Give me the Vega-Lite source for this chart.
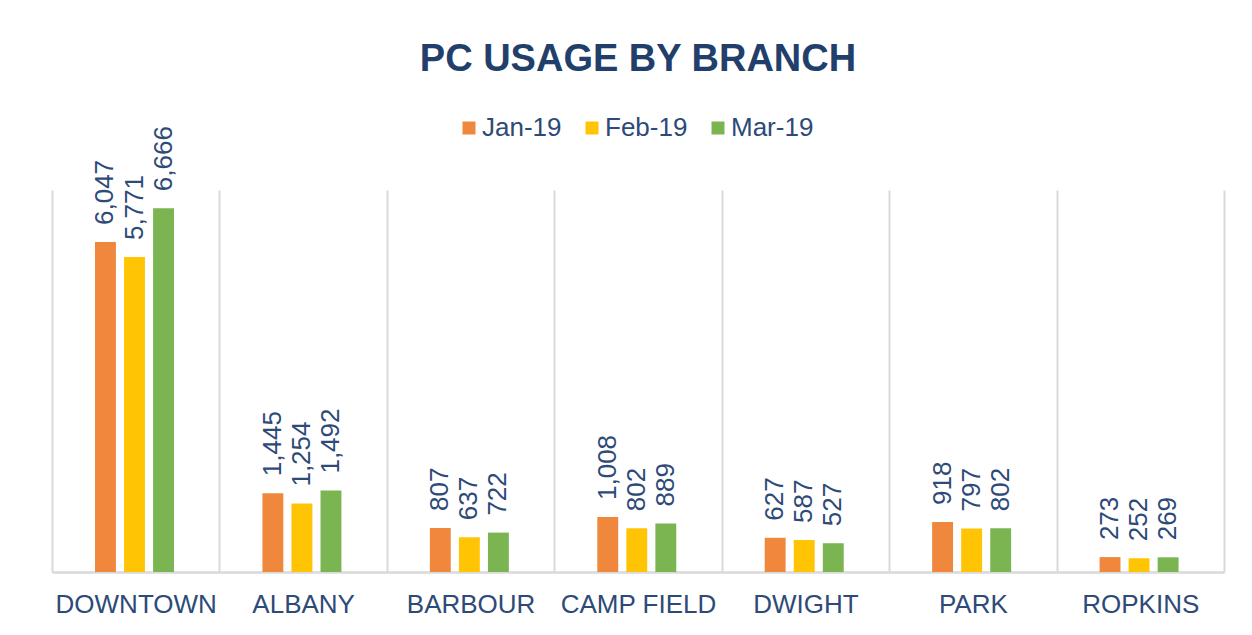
{
  "$schema": "https://vega.github.io/schema/vega-lite/v6.json",
  "autosize": "none",
  "width": 1172,
  "height": 382,
  "padding": {"left": 52, "top": 190, "right": 28, "bottom": 63},
  "background": "white",
  "title": {
    "text": "PC USAGE BY BRANCH",
    "font": "Liberation Sans",
    "fontSize": 38,
    "fontWeight": "bold",
    "color": "#223F6C",
    "anchor": "middle",
    "offset": 36
  },
  "data": {
    "values": [
      {"branch": "DOWNTOWN", "month": "Jan-19", "usage": 6047},
      {"branch": "DOWNTOWN", "month": "Feb-19", "usage": 5771},
      {"branch": "DOWNTOWN", "month": "Mar-19", "usage": 6666},
      {"branch": "ALBANY", "month": "Jan-19", "usage": 1445},
      {"branch": "ALBANY", "month": "Feb-19", "usage": 1254},
      {"branch": "ALBANY", "month": "Mar-19", "usage": 1492},
      {"branch": "BARBOUR", "month": "Jan-19", "usage": 807},
      {"branch": "BARBOUR", "month": "Feb-19", "usage": 637},
      {"branch": "BARBOUR", "month": "Mar-19", "usage": 722},
      {"branch": "CAMP FIELD", "month": "Jan-19", "usage": 1008},
      {"branch": "CAMP FIELD", "month": "Feb-19", "usage": 802},
      {"branch": "CAMP FIELD", "month": "Mar-19", "usage": 889},
      {"branch": "DWIGHT", "month": "Jan-19", "usage": 627},
      {"branch": "DWIGHT", "month": "Feb-19", "usage": 587},
      {"branch": "DWIGHT", "month": "Mar-19", "usage": 527},
      {"branch": "PARK", "month": "Jan-19", "usage": 918},
      {"branch": "PARK", "month": "Feb-19", "usage": 797},
      {"branch": "PARK", "month": "Mar-19", "usage": 802},
      {"branch": "ROPKINS", "month": "Jan-19", "usage": 273},
      {"branch": "ROPKINS", "month": "Feb-19", "usage": 252},
      {"branch": "ROPKINS", "month": "Mar-19", "usage": 269}
    ]
  },
  "encoding": {
    "x": {
      "field": "branch",
      "type": "nominal",
      "sort": null,
      "scale": {"paddingInner": 0, "paddingOuter": 0},
      "axis": {
        "title": null,
        "labelAngle": 0,
        "labelFont": "Liberation Sans",
        "labelFontSize": 26,
        "labelColor": "#2D4A78",
        "labelPadding": 19,
        "ticks": false,
        "domainColor": "#D9D9D9",
        "domainWidth": 2.5,
        "grid": true,
        "gridColor": "#D9D9D9",
        "gridWidth": 2,
        "tickBand": "extent",
        "labelOverlap": false,
        "labelBound": false
      }
    },
    "xOffset": {
      "field": "month",
      "type": "nominal",
      "sort": null,
      "scale": {"range": [43, 122], "paddingInner": 0.28, "paddingOuter": 0}
    },
    "y": {
      "field": "usage",
      "type": "quantitative",
      "scale": {"domain": [0, 7000]},
      "axis": null
    }
  },
  "layer": [
    {
      "mark": {"type": "bar"},
      "encoding": {
        "color": {
          "field": "month",
          "type": "nominal",
          "sort": null,
          "scale": {
            "domain": ["Jan-19", "Feb-19", "Mar-19"],
            "range": ["#EF883D", "#FFC505", "#7BB552"]
          },
          "legend": {
            "title": null,
            "orient": "none",
            "direction": "horizontal",
            "legendX": 404,
            "legendY": -75,
            "symbolType": "square",
            "symbolSize": 169,
            "symbolStrokeWidth": 0,
            "labelFont": "Liberation Sans",
            "labelFontSize": 26,
            "labelColor": "#2D4A78",
            "labelOffset": 0,
            "columnPadding": 17
          }
        }
      }
    },
    {
      "mark": {
        "type": "text",
        "angle": 270,
        "align": "left",
        "baseline": "middle",
        "dx": 17,
        "font": "Liberation Sans",
        "fontSize": 26,
        "color": "#2D4A78"
      },
      "encoding": {
        "text": {"field": "usage", "type": "quantitative", "format": ","}
      }
    }
  ],
  "config": {
    "view": {"stroke": null}
  }
}
